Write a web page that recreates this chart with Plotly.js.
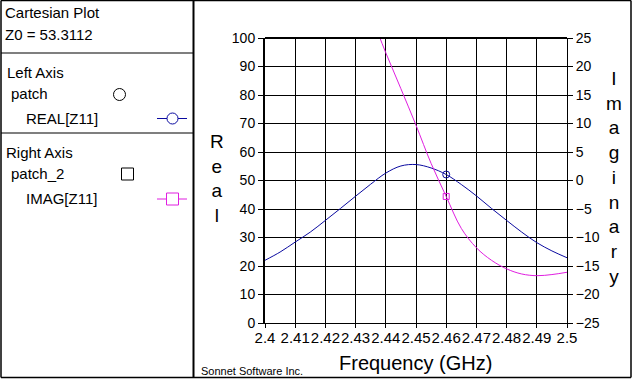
<!DOCTYPE html>
<html>
<head>
<meta charset="utf-8">
<script src="https://cdn.plot.ly/plotly-3.0.1.min.js"></script>
<style>
  html, body { margin: 0; padding: 0; background: #fff; }
  #chart { width: 632px; height: 379px; }
</style>
</head>
<body>
<div id="chart"></div>
<script>
// ---- data ----
const freq = [2.400, 2.405, 2.410, 2.415, 2.420, 2.425, 2.430, 2.435, 2.440, 2.445, 2.450,
              2.455, 2.460, 2.465, 2.470, 2.475, 2.480, 2.485, 2.490, 2.495, 2.500];
const realZ11 = [22.0, 24.9, 28.4, 31.9, 36.0, 40.2, 44.5, 48.7, 52.6, 55.1, 55.6,
                 54.4, 52.1, 48.6, 44.6, 40.2, 36.0, 31.9, 28.2, 25.3, 22.9];
const imagZ11 = [38.0, 38.7, 39.0, 38.8, 38.0, 36.0, 33.0, 28.8, 22.4, 16.1, 9.7,
                 3.0, -2.8, -8.4, -11.8, -14.0, -15.5, -16.4, -16.7, -16.5, -16.1];
const markerFreq = 2.46;

const xTickVals = [2.40, 2.41, 2.42, 2.43, 2.44, 2.45, 2.46, 2.47, 2.48, 2.49, 2.50];
const xTickText = ["2.4", "2.41", "2.42", "2.43", "2.44", "2.45", "2.46", "2.47", "2.48", "2.49", "2.5"];
const leftTicks = [0, 10, 20, 30, 40, 50, 60, 70, 80, 90, 100];
const rightTicks = [-25, -20, -15, -10, -5, 0, 5, 10, 15, 20, 25];

const titleText = "Cartesian Plot";
const z0Text = "Z0 = 53.3112";
const leftAxisText = "Left Axis";
const rightAxisText = "Right Axis";
const project1 = "patch";
const project2 = "patch_2";
const series1Name = "REAL[Z11]";
const series2Name = "IMAG[Z11]";
const xTitle = "Frequency (GHz)";
const yTitle = "Real";
const y2Title = "Imaginary";
const credit = "Sonnet Software Inc.";

// ---- layout geometry ----
const W = 632, H = 379;
const PL = 265, PR = 567, PT = 38, PB = 323;
const X = px => (px - PL) / (PR - PL);
const Y = py => (PB - py) / (PB - PT);
const FONT = "Liberation Sans, Arial, sans-serif";
const BLUE = "#0a0aa0";
const MAG = "#e01ee0";

const mi = freq.indexOf(markerFreq);

const traces = [
  { x: freq, y: realZ11, type: "scatter", mode: "lines", name: series1Name,
    line: { color: BLUE, width: 1, shape: "spline" }, yaxis: "y", hoverinfo: "skip" },
  { x: freq, y: imagZ11, type: "scatter", mode: "lines", name: series2Name,
    line: { color: MAG, width: 1, shape: "spline" }, yaxis: "y2", hoverinfo: "skip" },
  { x: [freq[mi]], y: [realZ11[mi]], type: "scatter", mode: "markers", yaxis: "y",
    marker: { symbol: "circle-open", size: 7, color: BLUE, line: { width: 1, color: BLUE } } },
  { x: [freq[mi]], y: [imagZ11[mi]], type: "scatter", mode: "markers", yaxis: "y2",
    marker: { symbol: "square-open", size: 6, color: MAG, line: { width: 1, color: MAG } } }
];

function line(x0, y0, x1, y1, w, c) {
  return { type: "line", xref: "paper", yref: "paper", x0: X(x0), y0: Y(y0), x1: X(x1), y1: Y(y1),
           line: { color: c || "#000", width: w } };
}
function ann(text, x, y, size, opts) {
  return Object.assign({ text: text, xref: "paper", yref: "paper", x: X(x), y: Y(y),
    xanchor: "left", yanchor: "middle", showarrow: false,
    font: { family: FONT, size: size, color: "#000" } }, opts || {});
}

const shapes = [
  // outer frame
  line(1, 0.5, 631, 0.5, 1.5),
  line(1, 377.5, 631, 377.5, 1.5),
  line(1, 0.5, 1, 377.5, 1.5),
  line(631, 0.5, 631, 377.5, 1.5),
  // divider and separators
  line(193.5, 0.5, 193.5, 377.5, 2),
  line(1, 53, 193, 53, 1.2),
  line(1, 133, 193, 133, 1.2),
  // plot top border (thick)
  line(PL, PT, PR, PT, 2),
  // legend: left-axis project symbol (circle)
  { type: "circle", xref: "paper", yref: "paper", x0: X(113.5), x1: X(125.5), y0: Y(88.5), y1: Y(100.5),
    line: { color: "#000", width: 1 } },
  // legend: REAL line + circle
  line(157, 118.5, 187, 118.5, 1, BLUE),
  { type: "circle", xref: "paper", yref: "paper", x0: X(167), x1: X(178), y0: Y(113), y1: Y(124),
    line: { color: BLUE, width: 1 }, fillcolor: "#fff" },
  // legend: right-axis project symbol (square)
  { type: "rect", xref: "paper", yref: "paper", x0: X(121.5), x1: X(133.5), y0: Y(168), y1: Y(180),
    line: { color: "#000", width: 1 } },
  // legend: IMAG line + square
  line(157, 199, 187, 199, 1, MAG),
  { type: "rect", xref: "paper", yref: "paper", x0: X(166.5), x1: X(178.5), y0: Y(193), y1: Y(205),
    line: { color: MAG, width: 1 }, fillcolor: "#fff" }
];

const annotations = [
  ann(titleText, 3, 12.5, 15),
  ann(z0Text, 3, 35, 15),
  ann(leftAxisText, 5, 72, 15),
  ann(project1, 9, 93, 15),
  ann(series1Name, 24, 118, 15),
  ann(rightAxisText, 4, 152.5, 15),
  ann(project2, 9, 173, 15),
  ann(series2Name, 24, 198.5, 15),
  ann(credit, 199, 370.5, 11),
  ann(xTitle, 415, 363, 20, { xanchor: "center" }),
  ann(yTitle.split("").join("<br>"), 217, 178, 19, { xanchor: "center" }),
  ann(y2Title.split("").join("<br>"), 614, 177, 19, { xanchor: "center" })
];

const layout = {
  width: W, height: H,
  margin: { l: PL, r: W - PR, t: PT, b: H - PB, pad: 0 },
  paper_bgcolor: "#fff", plot_bgcolor: "#fff",
  showlegend: false,
  font: { family: FONT, size: 14, color: "#000" },
  xaxis: {
    range: [2.4, 2.5], tickmode: "array", tickvals: xTickVals, ticktext: xTickText,
    tickangle: 0,
    showgrid: true, gridcolor: "#000", gridwidth: 1, zeroline: false,
    showline: true, linecolor: "#000", linewidth: 1,
    ticks: "outside", ticklen: 4, tickcolor: "#000", tickwidth: 1,
    ticklabelstandoff: -3,
    tickfont: { family: FONT, size: 15, color: "#000" }, fixedrange: true
  },
  yaxis: {
    range: [0, 100], tickmode: "array", tickvals: leftTicks,
    showgrid: true, gridcolor: "#000", gridwidth: 1, zeroline: false,
    showline: true, linecolor: "#000", linewidth: 2,
    ticks: "outside", ticklen: 5, tickcolor: "#000", tickwidth: 1,
    tickfont: { family: FONT, size: 14, color: "#000" }, fixedrange: true
  },
  yaxis2: {
    range: [-25, 25], tickmode: "array", tickvals: rightTicks,
    overlaying: "y", side: "right",
    showgrid: false, zeroline: false,
    showline: true, linecolor: "#000", linewidth: 1,
    ticks: "outside", ticklen: 5, tickcolor: "#000", tickwidth: 1,
    tickfont: { family: FONT, size: 14, color: "#000" }, fixedrange: true
  },
  shapes: shapes,
  annotations: annotations
};

Plotly.newPlot("chart", traces, layout, { staticPlot: true, displayModeBar: false });
</script>
</body>
</html>
